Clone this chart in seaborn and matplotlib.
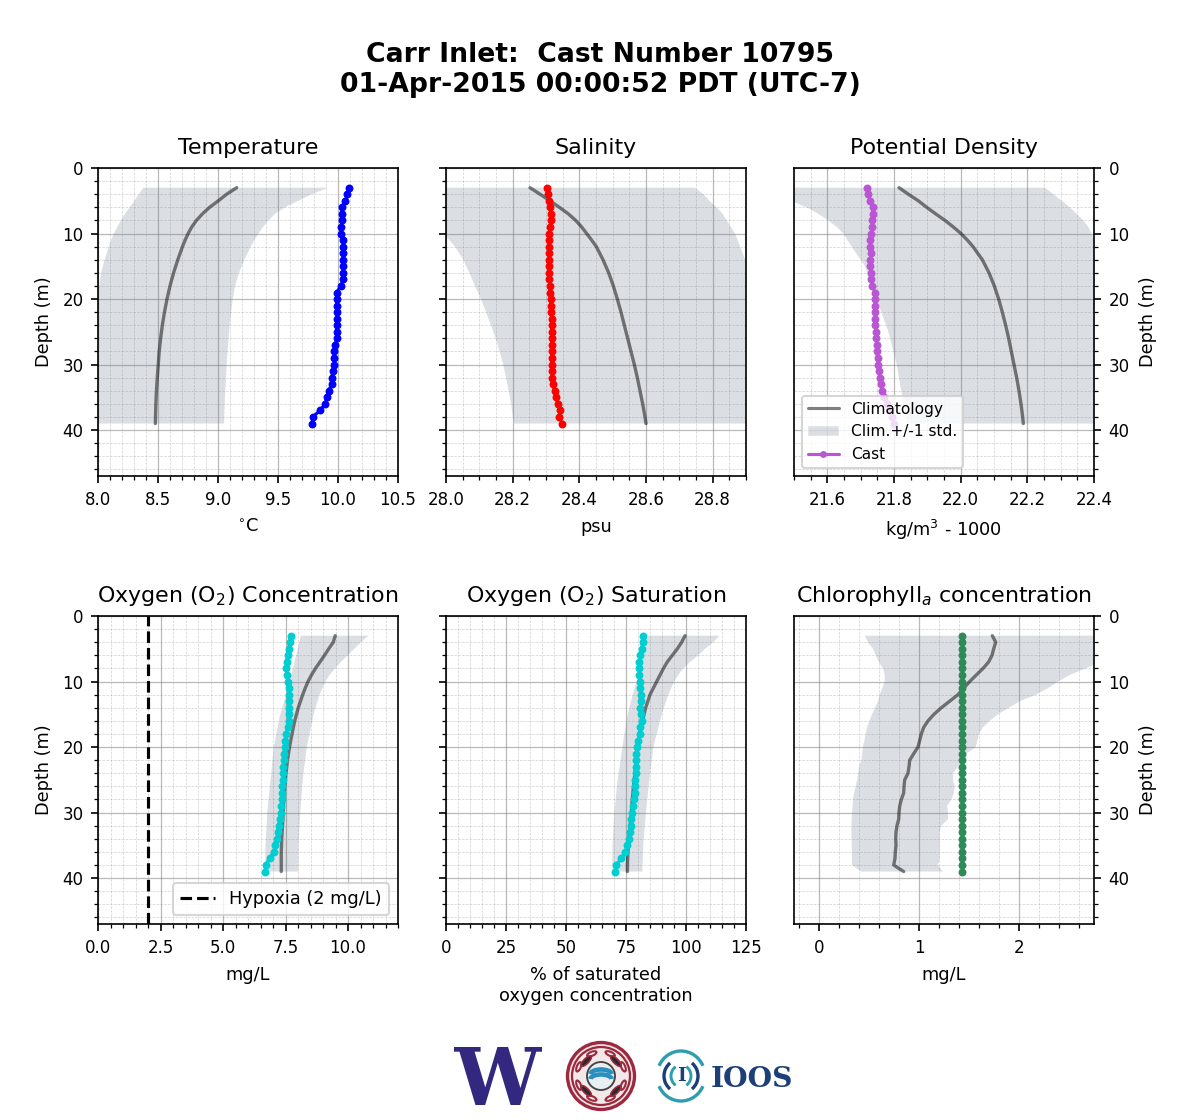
import numpy as np
import pandas as pd
import matplotlib
matplotlib.use("Agg")
import matplotlib.pyplot as plt
from matplotlib.font_manager import FontProperties
from matplotlib.lines import Line2D
from matplotlib.patches import Patch, Circle, Arc, Ellipse, PathPatch
from matplotlib.textpath import TextPath
from matplotlib.transforms import Affine2D
import seaborn as sns

# ---------- data ----------
cast_depth = list(range(3, 40))
temp_cast = [10.094,10.078,10.061,10.036,10.031,10.031,10.028,10.028,10.044,10.044,10.044,10.044,10.044,10.044,10.044,10.022,
             9.989,9.989,9.989,9.989,9.989,9.989,9.989,9.989,9.978,9.969,9.969,9.969,9.961,9.947,9.947,9.922,9.906,9.894,9.85,9.789,9.786]
sal_cast = [28.304,28.307,28.309,28.313,28.314,28.314,28.312,28.310,28.310,28.310,28.310,28.310,28.310,28.309,28.310,28.312,28.313,
            28.314,28.314,28.316,28.317,28.317,28.317,28.317,28.317,28.317,28.317,28.318,28.319,28.319,28.320,28.326,28.329,28.336,28.343,28.339,28.349]
dens_cast = [21.720,21.723,21.728,21.736,21.736,21.735,21.734,21.732,21.729,21.729,21.731,21.729,21.729,21.732,21.732,21.734,21.744,
             21.744,21.744,21.744,21.743,21.744,21.746,21.747,21.748,21.748,21.751,21.752,21.755,21.758,21.760,21.764,21.771,21.778,21.786,21.793,21.801]
oxy_cast = [7.71,7.66,7.62,7.58,7.54,7.53,7.55,7.59,7.62,7.63,7.63,7.63,7.63,7.63,7.59,7.53,7.49,7.46,7.43,7.42,7.39,7.39,7.41,7.37,
            7.35,7.34,7.33,7.30,7.27,7.22,7.19,7.15,7.09,7.02,6.86,6.70,6.68]
sat_cast = [82.2,81.9,81.5,81.0,80.6,80.6,80.6,80.8,81.0,81.4,81.4,81.0,81.4,81.5,81.0,80.8,80.1,79.6,79.3,79.3,79.2,79.0,78.9,78.75,
            78.6,78.3,78.1,77.6,77.2,77.1,76.5,76.1,75.4,74.7,73.1,70.8,70.6]
chl_cast = [1.43] * 37

line_depth = [3,4,5,6,7,8,9,10,11,12,14,16,18,20,22,24,26,28,30,32,34,36,38,39]
temp_clim = [9.156,9.072,9.003,8.930,8.870,8.820,8.781,8.751,8.726,8.704,8.665,8.630,8.600,8.575,8.554,8.536,8.522,8.510,8.502,8.494,8.487,8.482,8.479,8.478]
sal_clim = [28.252,28.282,28.312,28.340,28.367,28.389,28.407,28.422,28.437,28.451,28.471,28.488,28.502,28.514,28.525,28.535,28.545,28.555,28.565,28.574,28.582,28.590,28.597,28.600]
dens_clim = [21.815,21.843,21.873,21.898,21.925,21.953,21.978,22.001,22.020,22.037,22.065,22.085,22.101,22.114,22.125,22.135,22.144,22.152,22.160,22.168,22.175,22.181,22.186,22.188]
oxy_clim = [9.49,9.41,9.23,9.06,8.88,8.70,8.54,8.40,8.29,8.19,8.01,7.87,7.76,7.66,7.58,7.52,7.47,7.43,7.41,7.38,7.35,7.33,7.33,7.33]
sat_clim = [99.6,98.2,96.4,94.3,92.2,90.6,89.2,87.8,86.4,85.0,83.2,81.9,80.8,80.0,79.3,78.7,78.1,77.6,77.2,76.7,76.2,75.8,75.6,75.6]
chl_clim = [1.733,1.767,1.747,1.73,1.697,1.64,1.573,1.507,1.447,1.39,1.307,1.223,1.15,1.09,1.047,1.023,1.007,0.99,0.947,0.907,0.90,0.89,
            0.857,0.85,0.847,0.823,0.807,0.80,0.797,0.78,0.77,0.767,0.77,0.763,0.76,0.747,0.847]

temp_lo_d = [3,4,5,6,7,8,9,10,11,12,14,16,18,20,25,30,39]
temp_lo = [8.378,8.34,8.303,8.264,8.225,8.19,8.16,8.133,8.108,8.09,8.055,8.025,8.011,8.0,7.97,7.95,7.94]
temp_hi_d = [3,4,5,6,7,8,9,10,12,14,16,18,20,25,30,35,39]
temp_hi = [9.919,9.78,9.669,9.558,9.475,9.42,9.375,9.336,9.272,9.22,9.175,9.142,9.122,9.092,9.072,9.058,9.05]

sal_lo_d = [3,5,8,10,11,12,14,16,18,20,22,25,27,30,35,39]
sal_lo = [27.7,27.8,27.93,27.99,28.01,28.027,28.052,28.07,28.087,28.105,28.12,28.142,28.155,28.172,28.192,28.204]
sal_hi_d = [3,4,5,6,7,8,9,10,11,12,14,20,39]
sal_hi = [28.747,28.772,28.79,28.812,28.83,28.842,28.855,28.867,28.875,28.882,28.898,29.0,29.2]

dens_lo_d = [3,5,6,7,8,9,10,12,15,18,20,25,30,33,35,39]
dens_lo = [21.42,21.49,21.538,21.573,21.603,21.628,21.648,21.673,21.713,21.733,21.748,21.783,21.808,21.818,21.826,21.838]
dens_hi_d = [3,4,5,6,7,8,9,10,11,15,20,39]
dens_hi = [22.253,22.278,22.303,22.328,22.348,22.368,22.383,22.393,22.4,22.45,22.5,22.6]

oxy_lo_d = [3,5,7,10,12,15,18,20,25,30,35,39]
oxy_lo = [8.11,7.99,7.86,7.66,7.53,7.29,7.13,7.03,6.90,6.77,6.70,6.69]
oxy_hi_d = [3,4,5,6,7,8,9,10,12,15,18,20,25,30,35,39]
oxy_hi = [10.82,10.52,10.25,9.99,9.72,9.49,9.26,9.10,8.86,8.62,8.46,8.35,8.19,8.09,8.02,8.01]

sat_lo_d = [3,5,7,10,12,15,18,20,25,30,35,39]
sat_lo = [84.3,82.9,81.5,79.4,77.8,75.7,74.3,73.5,71.5,70.1,69.4,69.3]
sat_hi_d = [3,4,5,6,7,8,9,10,12,15,18,20,25,30,35,39]
sat_hi = [113.9,111.4,107.9,105.1,101.7,98.9,96.8,95.1,92.6,89.9,87.8,86.4,84.7,83.3,82.2,81.8]

chl_lo_d = [3,4,5,6,7,8,9,10,11,12,13,15,17,20,22,23,25,27,28,30,32,35,38,39]
chl_lo = [0.457,0.49,0.54,0.567,0.597,0.64,0.657,0.657,0.633,0.607,0.59,0.53,0.48,0.44,0.423,0.40,0.383,0.35,0.34,0.33,0.323,0.327,0.33,0.423]
chl_hi_d = [3,5,7,7.5,9,10,11,12,13,15,16,17,18,19,20,21,22,23,24,25,26,27,28,29,30,31,32,33,37,38,39]
chl_hi = [3.3,3.0,2.8,2.747,2.507,2.39,2.29,2.173,2.007,1.79,1.707,1.64,1.60,1.583,1.567,1.473,1.413,1.39,1.34,1.34,1.357,1.35,1.323,1.28,1.29,1.29,
          1.223,1.207,1.207,1.19,1.24]

titles = ["Temperature", "Salinity", "Potential Density",
          "Oxygen (O$_2$) Concentration", "Oxygen (O$_2$) Saturation", "Chlorophyll$_a$ concentration"]
xlabels = ["$^{\\circ}$C", "psu", "kg/m$^3$ - 1000", "mg/L", "% of saturated\noxygen concentration", "mg/L"]
cast_colors = ["blue", "red", "mediumorchid", "darkturquoise", "darkturquoise", "seagreen"]
xlims = [(8.0, 10.5), (28.0, 28.9), (21.5, 22.4), (0, 12), (0, 125), (-0.25, 2.75)]
major_steps = [0.5, 0.2, 0.2, 2.5, 25, 1]
minor_steps = [0.1, 0.05, 0.05, 0.5, 5, 0.2]
tick_fmt = ["%.1f", "%.1f", "%.1f", "%.1f", "%d", "%d"]

casts = [temp_cast, sal_cast, dens_cast, oxy_cast, sat_cast, chl_cast]
clims = [temp_clim, sal_clim, dens_clim, oxy_clim, sat_clim, chl_clim]
clim_depths = [line_depth] * 5 + [cast_depth]
bands = [(temp_lo_d, temp_lo, temp_hi_d, temp_hi), (sal_lo_d, sal_lo, sal_hi_d, sal_hi),
         (dens_lo_d, dens_lo, dens_hi_d, dens_hi), (oxy_lo_d, oxy_lo, oxy_hi_d, oxy_hi),
         (sat_lo_d, sat_lo, sat_hi_d, sat_hi), (chl_lo_d, chl_lo, chl_hi_d, chl_hi)]

# ---------- style ----------
sns.set_theme(style="ticks", rc={
    "axes.edgecolor": "black", "axes.labelcolor": "black", "text.color": "black",
    "xtick.color": "black", "ytick.color": "black", "font.family": "DejaVu Sans",
    "xtick.labelsize": 8, "ytick.labelsize": 8, "axes.labelsize": 8.5, "axes.titlesize": 10.6,
    "axes.linewidth": 0.8, "xtick.major.size": 3.5, "ytick.major.size": 3.5,
    "xtick.minor.size": 2, "ytick.minor.size": 2, "xtick.major.width": 0.8, "ytick.major.width": 0.8,
    "xtick.minor.width": 0.6, "ytick.minor.width": 0.6,
})

BAND = "slategray"
LINE = dict(color="black", alpha=0.5, linewidth=1.6)
MS = 3.8

fig, axes = plt.subplots(2, 3, figsize=(8, 1120 / 150), dpi=150)
fig.subplots_adjust(left=98 / 1200, right=1094 / 1200, top=1 - 168 / 1120, bottom=1 - 924 / 1120,
                    wspace=48 / 300, hspace=140 / 308)

for i, ax in enumerate(axes.flat):
    dl, lo, dh, hi = bands[i]
    ax.fill(np.r_[lo, hi[::-1]], np.r_[dl, dh[::-1]], color=BAND, alpha=0.25, linewidth=0, zorder=1)
    sns.lineplot(data=pd.DataFrame({"v": clims[i], "d": clim_depths[i]}), x="v", y="d", orient="y",
                 sort=False, estimator=None, ax=ax, zorder=3, **LINE)
    sns.lineplot(data=pd.DataFrame({"v": casts[i], "d": cast_depth}), x="v", y="d", orient="y",
                 sort=False, estimator=None, ax=ax, color=cast_colors[i], linewidth=1.5,
                 marker="o", markersize=MS, markeredgewidth=0, zorder=4)
    ax.set_xlim(*xlims[i])
    ax.set_ylim(47, 0)
    first = np.ceil(xlims[i][0] / major_steps[i] - 1e-9) * major_steps[i] + 0.0
    hi_x = xlims[i][1] + 1e-9
    ax.set_xticks(np.arange(first, hi_x, major_steps[i]) + 0.0)
    ax.set_xticks(np.arange(np.ceil(xlims[i][0] / minor_steps[i] - 1e-9) * minor_steps[i], hi_x, minor_steps[i]), minor=True)
    ax.xaxis.set_major_formatter(matplotlib.ticker.FormatStrFormatter(tick_fmt[i]))
    ax.set_yticks(np.arange(0, 41, 10))
    ax.set_yticks(np.arange(0, 47, 2), minor=True)
    ax.grid(which="major", color="gray", alpha=0.55, linewidth=0.6)
    ax.grid(which="minor", color="gray", alpha=0.35, linewidth=0.35, linestyle="--")
    ax.set_axisbelow(True)
    ax.set_title(titles[i], pad=6.5)
    ax.set_xlabel(xlabels[i], labelpad=4.4)
    ax.set_ylabel("")
    col = i % 3
    if col == 0:
        ax.set_ylabel("Depth (m)", labelpad=4.5)
    elif col == 1:
        ax.tick_params(axis="y", which="both", labelleft=False)
    else:
        ax.yaxis.tick_right()
        ax.yaxis.set_label_position("right")
        ax.set_ylabel("Depth (m)", labelpad=4.5)

# legends
axes[0, 2].legend(handles=[Line2D([], [], label="Climatology", color="black", alpha=0.5, lw=1.5),
                           Patch(facecolor=BAND, alpha=0.25, label="Clim.+/-1 std."),
                           Line2D([], [], label="Cast", color="mediumorchid", lw=1.5, marker="o", ms=3.3, mew=0)],
                  loc="lower left", fontsize=7.4).set_zorder(10)
ax_o = axes[1, 0]
ax_o.axvline(2, color="black", linestyle="--", linewidth=1.5, zorder=5)
ax_o.legend(handles=[Line2D([], [], color="black", linestyle="--", linewidth=1.5, label="Hypoxia (2 mg/L)")],
            loc="lower right", fontsize=8.5).set_zorder(10)

fig.suptitle("Carr Inlet:  Cast Number 10795\n01-Apr-2015 00:00:52 PDT (UTC-7)", fontsize=12.8, fontweight="bold",
             x=0.5, y=1 - 42 / 1120, va="top", linespacing=1.2)

# ---------- logos (sketched, pixel coordinates of the figure) ----------
lg = fig.add_axes([0, 0, 1, 1], zorder=-1)
lg.set_xlim(0, 1200)
lg.set_ylim(1120, 0)
lg.axis("off")
PURPLE, MAROON, NAVY, TEAL = "#32287f", "#9c2a3f", "#1d3f78", "#2f9db0"

# block W, fitted into its box
w_path = TextPath((0, 0), "W", size=10, prop=FontProperties(family="DejaVu Serif", weight="bold"))
bb = w_path.get_extents()
w_tf = (Affine2D().translate(-bb.x0, -bb.y1).scale(88 / bb.width, -58 / bb.height).translate(454, 1047))
lg.add_patch(PathPatch(w_path, facecolor=PURPLE, edgecolor="none", transform=w_tf + lg.transData))

# circular tribal-style logo
CX, CY = 601, 1076
lg.add_patch(Circle((CX, CY), 33.5, facecolor="#f3e8e9", edgecolor=MAROON, linewidth=1.6))
lg.add_patch(Circle((CX, CY), 29, facecolor="none", edgecolor=MAROON, linewidth=1.1))
for ang in range(0, 360, 45):
    t = np.radians(ang + 22.5)
    lg.add_patch(Ellipse((CX + 24 * np.cos(t), CY + 24 * np.sin(t)), 10, 4, angle=ang + 22.5 + 90,
                         facecolor="none", edgecolor=MAROON, linewidth=1.0))
for ang in (-45, 45, 135, 225):
    t = np.radians(ang)
    lg.add_patch(Ellipse((CX + 21 * np.cos(t), CY + 21 * np.sin(t)), 14, 5, angle=ang + 90,
                         facecolor="#2a2a2a", edgecolor=MAROON, linewidth=0.8))
lg.add_patch(Circle((CX, CY), 14, facecolor="#e8eef1", edgecolor="#444444", linewidth=0.9))
lg.add_patch(Arc((CX, CY + 3), 21, 9, theta1=180, theta2=360, color="#2a8fc0", linewidth=2.2))
lg.add_patch(Arc((CX, CY - 2), 21, 9, theta1=180, theta2=360, color="#2a8fc0", linewidth=2.2))

# IOOS mark
IX = 681
lg.add_patch(Arc((IX, CY), 48, 50, theta1=25, theta2=155, color=TEAL, linewidth=1.6))
lg.add_patch(Arc((IX, CY), 48, 50, theta1=205, theta2=335, color=TEAL, linewidth=1.6))
lg.add_patch(Arc((IX, CY), 34, 34, theta1=-50, theta2=50, color=NAVY, linewidth=1.6))
lg.add_patch(Arc((IX, CY), 34, 34, theta1=130, theta2=230, color=NAVY, linewidth=1.6))
lg.add_patch(Arc((IX, CY), 20, 22, theta1=120, theta2=240, color=TEAL, linewidth=1.4))
lg.add_patch(Arc((IX, CY), 20, 22, theta1=-60, theta2=60, color=TEAL, linewidth=1.4))
lg.text(IX, CY, "I", family="DejaVu Serif", weight="bold", fontsize=9, color=NAVY, ha="center", va="center")
lg.text(711, 1087, "IOOS", family="DejaVu Serif", weight="bold", fontsize=13.5, color=NAVY, ha="left", va="baseline")

fig.savefig("out.png", dpi=150)
